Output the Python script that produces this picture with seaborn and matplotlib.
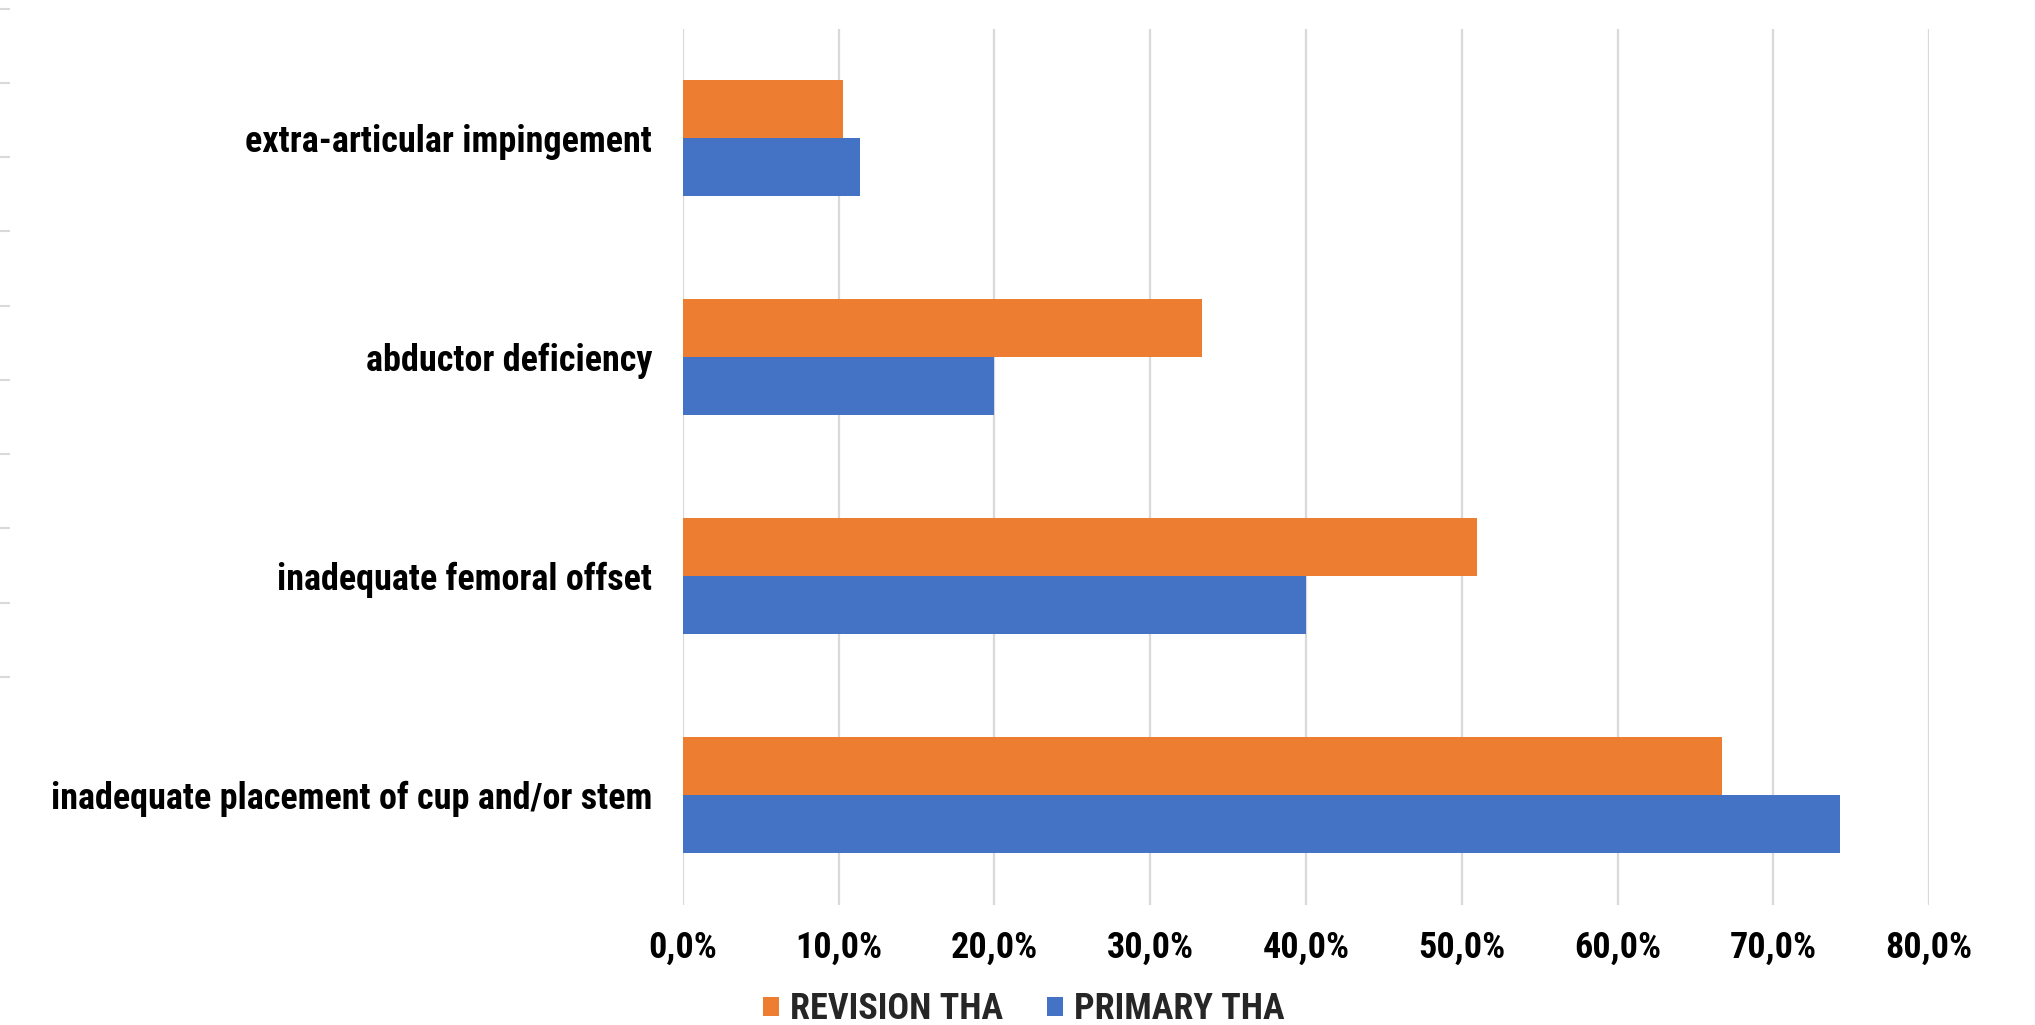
import numpy as np
import pandas as pd
import matplotlib
matplotlib.use("Agg")
import matplotlib.pyplot as plt
from matplotlib import font_manager
from matplotlib.patches import Patch
from matplotlib.ticker import FixedLocator, FuncFormatter
import seaborn as sns

# Causes of dislocation, share of cases (%)
categories = [
    "extra-articular impingement",
    "abductor deficiency",
    "inadequate femoral offset",
    "inadequate placement of cup and/or stem",
]
series_names = ["REVISION THA", "PRIMARY THA"]
revision_pct = [10.3, 33.3, 51.0, 66.7]
primary_pct = [11.4, 20.0, 40.0, 74.3]
x_ticks = [0, 10, 20, 30, 40, 50, 60, 70, 80]

colors = {"REVISION THA": "#ED7D31", "PRIMARY THA": "#4472C4"}
grid_color = "#D9D9D9"

df = pd.DataFrame({
    "cause": categories * 2,
    "group": [series_names[0]] * len(categories) + [series_names[1]] * len(categories),
    "pct": revision_pct + primary_pct,
})

sns.set_theme(style="white")
installed = {f.name for f in font_manager.fontManager.ttflist}
family = [f for f in ["Roboto Condensed", "Roboto", "DejaVu Sans"] if f in installed]
plt.rcParams["font.family"] = family
plt.rcParams["font.weight"] = "bold"

fig = plt.figure(figsize=(20.35, 10.25), dpi=100)
fig.patch.set_facecolor("white")
ax = fig.add_axes([0.3355, 0.1174, 0.948 - 0.3355, 0.972 - 0.1174])

sns.barplot(
    data=df, x="pct", y="cause", hue="group",
    order=categories, hue_order=series_names,
    palette=colors, orient="h", width=0.53, gap=0,
    saturation=1, errorbar=None, ax=ax, legend=False,
)
for p in ax.patches:
    p.set_linewidth(0)

ax.set_xlim(0, 80)
ax.xaxis.set_major_locator(FixedLocator(x_ticks))
ax.xaxis.set_major_formatter(FuncFormatter(lambda v, _: f"{v:.1f}%".replace(".", ",")))
ax.grid(axis="x", color=grid_color, linewidth=1.6)
ax.grid(axis="y", visible=False)
ax.set_axisbelow(True)
for s in ax.spines.values():
    s.set_visible(False)
ax.set_xlabel("")
ax.set_ylabel("")
ax.tick_params(axis="x", length=0, pad=18, labelsize=26, labelcolor="black")
ax.tick_params(axis="y", length=0, pad=22, labelsize=26, labelcolor="black")
for lbl in ax.get_xticklabels() + ax.get_yticklabels():
    lbl.set_fontweight("bold")

handles = [Patch(facecolor=colors[n], edgecolor="none", label=n) for n in series_names]
fig.legend(
    handles=handles, loc="center", bbox_to_anchor=(0.503, 0.0155), ncol=2,
    frameon=False, handlelength=0.45, handleheight=0.45, handletextpad=0.3,
    columnspacing=1.2, prop={"size": 26, "weight": "bold"},
)

# faint tick strip along the left edge
strip = fig.add_axes([0, 1 - 677 / 1025, 0.01, (677 - 8.5) / 1025])
strip.set_ylim(0, 1)
strip.set_yticks(np.linspace(0, 1, 10))
strip.set_yticklabels([])
strip.set_xticks([])
strip.tick_params(axis="y", left=True, direction="in", length=7, width=1.5, color=grid_color)
for s in strip.spines.values():
    s.set_visible(False)
strip.patch.set_alpha(0)

fig.savefig("out.png", dpi=100, facecolor="white")
